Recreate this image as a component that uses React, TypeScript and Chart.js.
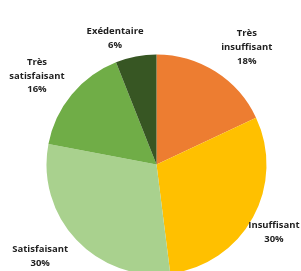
import React, { useEffect, useRef } from "react";
import { Chart, registerables } from "chart.js";

Chart.register(...registerables);

const categories = ["Très insuffisant", "Insuffisant", "Satisfaisant", "Très satisfaisant", "Exédentaire"];
const values = [18, 30, 30, 16, 6];
const labelLines = [["Très", "insuffisant", "18%"], ["Insuffisant", "30%"], ["Satisfaisant", "30%"], ["Très", "satisfaisant", "16%"], ["Exédentaire", "6%"]];
const colors = ["#ED7D31", "#FFC000", "#A9D18E", "#70AD47", "#375623"];

// label placement: angle offset from slice mid-angle (deg), extra distance beyond radius (px)
const labelAngleOffset = [5.2, 1.1, 5.0, -3.1, -7.4];
const labelExtraDist = [38, 25.5, 38, 38.7, 22.6];

const labelPlugin = {
  id: "outerLabels",
  afterDraw(chart: any) {
    const ctx = chart.ctx;
    const meta = chart.getDatasetMeta(0);
    ctx.save();
    ctx.font = "bold 9.5px 'Open Sans'";
    ctx.fillStyle = "#1f1f1f";
    ctx.textAlign = "center";
    ctx.textBaseline = "middle";
    const lh = 13.7;
    meta.data.forEach((arc: any, i: number) => {
      const p = arc.getProps(["x", "y", "startAngle", "endAngle", "outerRadius"], true);
      const mid = (p.startAngle + p.endAngle) / 2 + (labelAngleOffset[i] * Math.PI) / 180;
      const d = p.outerRadius + labelExtraDist[i];
      const cx = p.x + Math.cos(mid) * d;
      const cy = p.y + Math.sin(mid) * d;
      const lines = labelLines[i];
      const top = cy - ((lines.length - 1) * lh) / 2;
      lines.forEach((t, k) => ctx.fillText(t, cx, top + k * lh));
    });
    ctx.restore();
  },
};

export default function App() {
  const ref = useRef<HTMLCanvasElement>(null);
  useEffect(() => {
    document.body.style.margin = "0";
    document.body.style.overflow = "hidden";
    const chart = new Chart(ref.current!, {
      type: "pie",
      data: {
        labels: categories,
        datasets: [{ data: values, backgroundColor: colors, borderWidth: 0 }],
      },
      options: {
        responsive: false,
        animation: false,
        layout: { padding: { top: 54.5, bottom: 5.5, left: 46.5, right: 34.5 } },
        plugins: { legend: { display: false }, tooltip: { enabled: false } },
      },
      plugins: [labelPlugin],
    });
    return () => chart.destroy();
  }, []);
  return (
    <div style={{ width: 301, height: 280, background: "#fff" }}>
      <canvas ref={ref} width={301} height={280} style={{ display: "block" }} />
    </div>
  );
}
